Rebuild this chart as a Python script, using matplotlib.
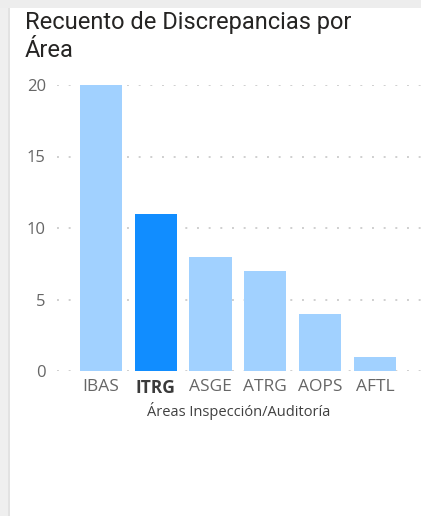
import matplotlib.pyplot as plt
from matplotlib.patches import Rectangle

areas = ['IBAS', 'ITRG', 'ASGE', 'ATRG', 'AOPS', 'AFTL']
counts = [20, 11, 8, 7, 4, 1]
highlight = 'ITRG'
yticks = [0, 5, 10, 15, 20]

light = '#A1D1FF'
dark = '#118DFF'
colors = [dark if a == highlight else light for a in areas]

fig = plt.figure(figsize=(4.21, 5.16), dpi=100)
fig.patch.set_facecolor('white')

# frame strips of the report canvas
fig.patches.append(Rectangle((0, 0), 8 / 421, 1, transform=fig.transFigure,
                             facecolor='#EFEFEF', edgecolor='none', zorder=0))
fig.patches.append(Rectangle((8 / 421, 0), 2 / 421, 1, transform=fig.transFigure,
                             facecolor='#E2E2E2', edgecolor='none', zorder=0))
fig.patches.append(Rectangle((0, 1 - 8 / 516), 1, 8 / 516, transform=fig.transFigure,
                             facecolor='#EDEDED', edgecolor='none', zorder=0))

ax = fig.add_axes([57 / 421, 1 - 371 / 516, 1 - 57 / 421, (371 - 85) / 516])
ax.bar(range(len(areas)), counts, width=0.77, color=colors, zorder=2)
ax.set_xlim(-0.8, 5.84)
ax.set_ylim(0, 20)
ax.set_yticks(yticks)
ax.yaxis.grid(True, color='#CFCFCF', linestyle=(0, (1, 5)), linewidth=1.4, zorder=0)
ax.set_axisbelow(True)
for s in ax.spines.values():
    s.set_visible(False)
ax.tick_params(length=0, colors='#666666', labelsize=12)
ax.tick_params(axis='y', pad=8)
ax.tick_params(axis='x', pad=6)
ax.set_xticks(range(len(areas)))
ax.set_xticklabels(areas, family='Open Sans', color='#666666', fontsize=12.5)
for lbl in ax.get_xticklabels():
    if lbl.get_text() == highlight:
        lbl.set_fontweight('bold')
        lbl.set_color('#3A3A3A')
for lbl in ax.get_yticklabels():
    lbl.set_family('Open Sans')
ax.set_xlabel('Áreas Inspección/Auditoría', family='Open Sans', fontsize=10.5,
              color='#404040', labelpad=3)

fig.text(25 / 421, 1 - 11 / 516, 'Recuento de Discrepancias por\nÁrea',
         family='Roboto', fontsize=17, color='#252423', va='top',
         linespacing=1.3)

fig.savefig('out.png', dpi=100)
